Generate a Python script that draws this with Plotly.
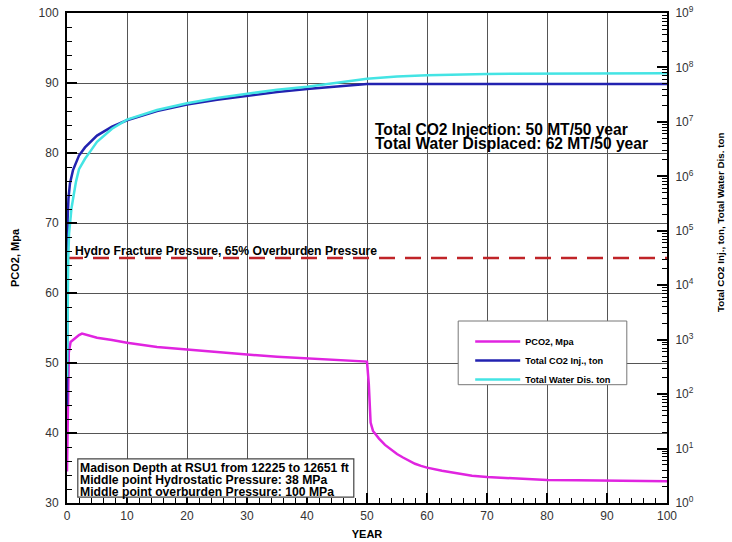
import plotly.graph_objects as go

# PCO2 pressure history (MPa) vs year
pco2_year = [0, 0.1, 0.3, 0.6, 1, 1.5, 2, 2.5, 3, 4, 5, 7.5, 10, 15, 20, 25, 30, 35,
             40, 45, 50, 50.3, 50.6, 51, 52, 53, 54, 55, 56, 57, 58, 59, 60, 62.5,
             65, 67.5, 70, 75, 80, 85, 90, 95, 100]
pco2_mpa = [34.5, 44.0, 51.5, 53.0, 53.3, 53.7, 54.0, 54.2, 54.1, 53.8, 53.6, 53.3,
            52.9, 52.3, 51.9, 51.5, 51.2, 50.9, 50.7, 50.4, 50.2, 47.0, 41.5, 40.3,
            39.2, 38.3, 37.6, 37.0, 36.5, 36.0, 35.6, 35.3, 35.05, 34.6, 34.2, 33.9,
            33.7, 33.45, 33.3, 33.25, 33.2, 33.15, 33.1]

# cumulative CO2 injected (ton)
inj_year = [0.001, 0.003, 0.01, 0.05, 0.1, 0.25, 0.5, 1, 2, 3, 5, 7.5, 10, 15, 20,
            25, 30, 35, 40, 45, 50, 60, 70, 80, 90, 100]
inj_ton = [60, 800, 1.2e4, 7e4, 1.6e5, 4e5, 7.5e5, 1.3e6, 2.4e6, 3.4e6, 5.6e6,
           8.2e6, 1.07e7, 1.58e7, 2.08e7, 2.55e7, 3.05e7, 3.55e7, 4.02e7, 4.5e7,
           4.95e7, 4.95e7, 4.95e7, 4.95e7, 4.95e7, 4.95e7]

# cumulative water displaced (ton)
wat_year = [0.01, 0.05, 0.1, 0.2, 0.35, 0.5, 0.75, 1, 1.5, 2, 3, 4, 5, 7.5, 10, 15,
            20, 25, 30, 35, 40, 45, 50, 55, 60, 70, 80, 90, 100]
wat_ton = [200, 3000, 9000, 3e4, 9e4, 1.6e5, 2.6e5, 3.8e5, 8e5, 1.35e6, 2.1e6, 3.0e6,
           4.3e6, 7.5e6, 1.1e7, 1.65e7, 2.2e7, 2.75e7, 3.3e7, 3.9e7, 4.4e7, 5.2e7,
           6.2e7, 6.8e7, 7.2e7, 7.6e7, 7.75e7, 7.8e7, 7.85e7]

# hydro-fracture limit (65% of overburden)
frac_year = [0, 100]
frac_mpa = [65, 65]

right_tickvals = [1, 10, 1e2, 1e3, 1e4, 1e5, 1e6, 1e7, 1e8, 1e9]
right_ticktext = ["10<sup>%d</sup>" % i for i in range(10)]

FONT = "Liberation Sans"
MAGENTA = "#e024e0"
BLUE = "#2222b0"
CYAN = "#44e4e4"
RED = "#c02428"

fig = go.Figure()
fig.add_trace(go.Scatter(x=frac_year, y=frac_mpa, mode="lines", showlegend=False,
                         line=dict(color=RED, width=2.5, dash="16px,10px")))
fig.add_trace(go.Scatter(x=pco2_year, y=pco2_mpa, mode="lines", name="PCO2, Mpa",
                         line=dict(color=MAGENTA, width=2.5)))
fig.add_trace(go.Scatter(x=inj_year, y=inj_ton, mode="lines", name="Total CO2 Inj., ton",
                         yaxis="y2", line=dict(color=BLUE, width=2.5)))
fig.add_trace(go.Scatter(x=wat_year, y=wat_ton, mode="lines", name="Total Water Dis. ton",
                         yaxis="y2", line=dict(color=CYAN, width=2.5)))

axis_common = dict(
    showline=True, linewidth=2, linecolor="black",
    ticks="inside", tickcolor="black", tickwidth=1.5, ticklen=10,
    tickfont=dict(family=FONT, size=12, color="#333"),
    zeroline=False, automargin=False,
)

fig.update_layout(
    width=732, height=542,
    margin=dict(l=67, r=65, t=13, b=39, autoexpand=False),
    paper_bgcolor="white", plot_bgcolor="white",
    font=dict(family=FONT, color="black"),
    xaxis=dict(range=[0, 100], dtick=10, tick0=0, mirror=True,
               showgrid=True, gridcolor="#555", gridwidth=1,
               minor=dict(dtick=2, ticks="inside", ticklen=5, tickcolor="black",
                          tickwidth=1, showgrid=False),
               ticklabelstandoff=1,
               title=dict(text="<b>YEAR</b>", font=dict(size=11), standoff=8),
               **axis_common),
    yaxis=dict(range=[30, 100], dtick=10, tick0=0,
               showgrid=True, gridcolor="#555", gridwidth=1,
               minor=dict(dtick=2, ticks="inside", ticklen=5, tickcolor="black",
                          tickwidth=1, showgrid=False),
               ticklabelstandoff=4,
               title=dict(text="<b>PCO2, Mpa</b>", font=dict(size=11), standoff=17),
               **axis_common),
    yaxis2=dict(type="log", range=[0, 9], overlaying="y", side="right",
                showgrid=False, tickvals=right_tickvals, ticktext=right_ticktext,
                minor=dict(ticks="inside", ticklen=5, tickcolor="black", tickwidth=1,
                           dtick="D1", showgrid=False),
                ticklabelstandoff=4,
                **axis_common),
    legend=dict(x=0.672, y=0.359, xanchor="left", yanchor="top",
                bgcolor="rgba(0,0,0,0)", borderwidth=0,
                font=dict(family=FONT, size=9.2, color="black", weight="bold"),
                itemwidth=45, tracegroupgap=0),
    shapes=[
        # legend frame
        dict(type="rect", xref="x", yref="y", x0=65.2, x1=93.3, y0=46.9, y1=56.0,
             line=dict(color="#777", width=1), fillcolor="white", layer="above"),
        # well info frame
        dict(type="rect", xref="x", yref="y", x0=1.8, x1=47.8, y0=30.85, y1=36.3,
             line=dict(color="#444", width=1.2), fillcolor="white", layer="above"),
    ],
)

# right-hand axis title, placed a little above the axis centre
fig.add_annotation(x=1.088, y=0.573, xref="paper", yref="paper",
                   text="<b>Total CO2 Inj., ton, Total Water Dis. ton</b>",
                   textangle=-90, showarrow=False, xanchor="center", yanchor="middle",
                   font=dict(family=FONT, size=9.8, color="black"))

bold = dict(family=FONT, color="black", weight="bold")
notes = [
    (51.0, 83.3, "Total CO2 Injection: 50 MT/50 year", 15.6),
    (51.0, 81.3, "Total Water Displaced: 62 MT/50 year", 15.6),
    (1.0, 66.0, "Hydro Fracture Pressure, 65% Overburden Pressure", 12.2),
    (1.9, 35.0, "Madison Depth at RSU1 from 12225 to 12651 ft", 12.2),
    (1.9, 33.3, "Middle point Hydrostatic Pressure: 38 MPa", 12.2),
    (1.9, 31.6, "Middle point overburden Pressure: 100 MPa", 12.2),
]
for x, y, txt, size in notes:
    fig.add_annotation(x=x, y=y, xref="x", yref="y", text=txt, showarrow=False,
                       xanchor="left", yanchor="middle",
                       font=dict(size=size, **bold))

fig.write_html("out.html")
